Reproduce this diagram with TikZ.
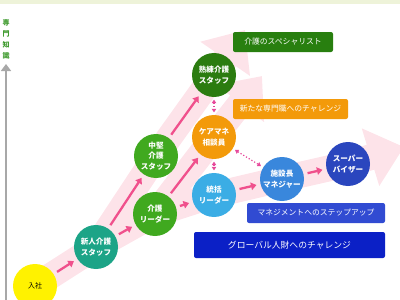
\documentclass[tikz,border=0pt]{standalone}
\usepackage{fontspec}
\newfontfamily\jpfont{Noto Sans CJK JP}
\usetikzlibrary{arrows.meta}
\definecolor{topstrip}{HTML}{EEF3D9}
\definecolor{bandpink}{HTML}{FDE3E9}
\definecolor{flowpink}{HTML}{F0508C}
\definecolor{dotpink}{HTML}{E6489A}
\definecolor{axisgray}{HTML}{A8A8A8}
\definecolor{axisgreen}{HTML}{3F9A2E}
\definecolor{entryyellow}{HTML}{FFF200}
\definecolor{newteal}{HTML}{1CA487}
\definecolor{midgreen}{HTML}{40A91F}
\definecolor{deepgreen}{HTML}{2B7C10}
\definecolor{careorange}{HTML}{F39A0A}
\definecolor{skyblue}{HTML}{3BADE5}
\definecolor{mgrblue}{HTML}{3987DC}
\definecolor{svblue}{HTML}{2A46BE}
\definecolor{specgreen}{HTML}{287F0F}
\definecolor{mgmtblue}{HTML}{314BD2}
\definecolor{globalblue}{HTML}{0B20C6}
\tikzset{
  stage/.style={circle,minimum size=44pt,inner sep=0pt,align=center,text=white,
    font=\jpfont\bfseries\fontsize{7.6}{10.5}\selectfont},
  goal/.style={rounded corners=2pt,inner sep=0pt,text=white,
    font=\jpfont\fontsize{7.8}{9}\selectfont},
  band/.style={bandpink,line width=26pt,-{Triangle[width=58pt,length=35pt]}},
  flow/.style={flowpink,line width=2.3pt,-{Triangle[width=7.5pt,length=5.5pt]},
    shorten <=4pt,shorten >=4pt},
  link/.style={dotpink,line width=1.2pt,dotted,
    {Triangle[length=3.5pt,width=4.5pt]}-{Triangle[length=3.5pt,width=4.5pt]},
    shorten <=2.5pt,shorten >=2.5pt},
  axis/.style={axisgray,line width=2.8pt,-{Triangle[width=10pt,length=7pt]}}
}
\begin{document}
\begin{tikzpicture}[x=1pt,y=-1pt]
  \useasboundingbox (0,0) rectangle (400,300);
  \fill[topstrip] (0,0) rectangle (400,4);
  \coordinate (cNyusha) at (35,286);
  \coordinate (cShinjin) at (96,247);
  \coordinate (cLeader) at (155,214);
  \coordinate (cChuken) at (156,156);
  \coordinate (cJukuren) at (214,75);
  \coordinate (cCaremane) at (214,137);
  \coordinate (cTokatsu) at (214,195);
  \coordinate (cShisetsu) at (282,179);
  \coordinate (cSv) at (348,164);
  \draw[band] (cNyusha) -- (cShinjin) -- (cChuken) -- (cJukuren) -- (245,30);
  \draw[band] (cShinjin) -- (cLeader) -- (cCaremane) -- (262,76);
  \draw[band] (cLeader) -- (cTokatsu) -- (cShisetsu) -- (cSv) -- (404,147);
  \draw[axis] (6,300) -- (6,64);
  \node[text=axisgreen,align=center,font=\jpfont\bfseries\fontsize{7}{11}\selectfont] (axistext) at (6,39.5) {専\\門\\知\\識};
  \node[goal,fill=specgreen,minimum width=100pt,minimum height=20pt] (boxSpec) at (283,42) {介護のスペシャリスト};
  \node[goal,fill=careorange,minimum width=115pt,minimum height=20pt] (boxChallenge) at (290.5,109) {新たな専門職へのチャレンジ};
  \node[goal,fill=mgmtblue,minimum width=138pt,minimum height=20pt] (boxMgmt) at (316,213) {マネジメントへのステップアップ};
  \node[goal,fill=globalblue,minimum width=191pt,minimum height=26pt,font=\jpfont\fontsize{8.8}{10}\selectfont] (boxGlobal) at (289.5,245) {グローバル人財へのチャレンジ};
  \node[stage,fill=entryyellow,text=black,font=\jpfont\fontsize{7}{9}\selectfont] (nyusha) at (cNyusha) {入社};
  \node[stage,fill=newteal] (shinjin) at (cShinjin) {新人介護\\スタッフ};
  \node[stage,fill=midgreen] (leader) at (cLeader) {介護\\リーダー};
  \node[stage,fill=midgreen] (chuken) at (cChuken) {中堅\\介護\\スタッフ};
  \node[stage,fill=deepgreen] (jukuren) at (cJukuren) {熟練介護\\スタッフ};
  \node[stage,fill=careorange] (caremane) at (cCaremane) {ケアマネ\\相談員};
  \node[stage,fill=skyblue] (tokatsu) at (cTokatsu) {統括\\リーダー};
  \node[stage,fill=mgrblue] (shisetsu) at (cShisetsu) {施設長\\マネジャー};
  \node[stage,fill=svblue] (sv) at (cSv) {スーパー\\バイザー};
  \draw[flow] (nyusha) -- (shinjin);
  \draw[flow] (shinjin) -- (chuken);
  \draw[flow] (shinjin) -- (leader);
  \draw[flow] (chuken) -- (jukuren);
  \draw[flow] (leader) -- (caremane);
  \draw[flow] (leader) -- (tokatsu);
  \draw[flow] (tokatsu) -- (shisetsu);
  \draw[flow] (shisetsu) -- (sv);
  \draw[link] (jukuren) -- (caremane);
  \draw[link] (caremane) -- (tokatsu);
  \draw[link] (caremane) -- (shisetsu);
\end{tikzpicture}
\end{document}
